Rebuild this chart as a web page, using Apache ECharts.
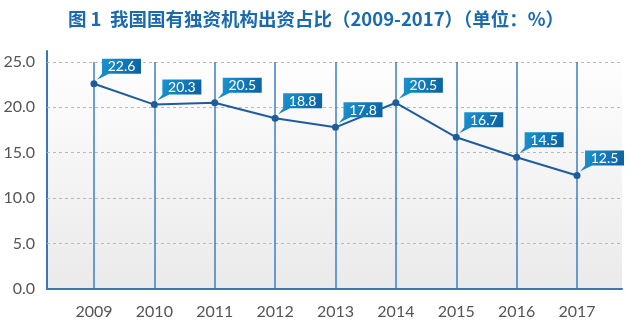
<!DOCTYPE html>
<html>
<head>
<meta charset="utf-8">
<script src="https://cdn.jsdelivr.net/npm/echarts@6/dist/echarts.min.js"></script>
<style>
  html, body { margin: 0; padding: 0; background: #ffffff; }
  #chart { width: 632px; height: 326px; }
</style>
</head>
<body>
<div id="chart"></div>
<script>
// Years on the horizontal axis
const years = [2009, 2010, 2011, 2012, 2013, 2014, 2015, 2016, 2017];
// Share of capital contributed by wholly state-owned institutions (%)
const shares = [22.6, 20.3, 20.5, 18.8, 17.8, 20.5, 16.7, 14.5, 12.5];
// Value-axis tick labels
const yTicks = [0, 5, 10, 15, 20, 25];

const points = years.map((y, i) => [y, shares[i]]);

const chart = echarts.init(document.getElementById('chart'), null, { renderer: 'canvas' });

const axisBlue = '#3a78b5';
const lineBlue = '#1f5c9c';
const font = 'Lato, "Noto Sans", sans-serif';

// Speech-bubble value tag drawn up and to the right of each point
function renderTag(params, api) {
  const p = api.coord([api.value(0), api.value(1)]);
  const L = p[0] + 8, R = p[0] + 47, T = p[1] - 25, B = p[1] - 10;
  return {
    type: 'group',
    children: [
      {
        type: 'polygon',
        shape: { points: [[L, T], [R, T], [R, B], [L + 7, B], [p[0] + 3, p[1] - 4], [L, B]] },
        style: {
          fill: new echarts.graphic.LinearGradient(0, 0, 1, 1, [
            { offset: 0, color: '#1c9ad6' },
            { offset: 1, color: '#0a5c9c' }
          ])
        }
      },
      {
        type: 'text',
        style: {
          text: api.value(1).toFixed(1),
          x: (L + R) / 2,
          y: (T + B) / 2 + 0.5,
          align: 'center',
          verticalAlign: 'middle',
          fill: '#ffffff',
          font: '14px ' + font
        }
      }
    ]
  };
}

chart.setOption({
  animation: false,
  title: {
    text: '图 1  我国国有独资机构出资占比（2009-2017）（单位：%）',
    left: 'center',
    top: 5,
    textStyle: {
      color: '#1a6aad',
      fontSize: 18.5,
      fontWeight: 'bold',
      fontFamily: '"Noto Sans CJK SC", sans-serif'
    }
  },
  grid: {
    left: 47, right: 10, top: 51, bottom: 37,
    show: true,
    borderWidth: 0,
    backgroundColor: new echarts.graphic.LinearGradient(0, 0, 0, 1, [
      { offset: 0, color: '#ffffff' },
      { offset: 1, color: '#eaeaea' }
    ])
  },
  xAxis: {
    type: 'value',
    min: 2008.222,
    max: 2017.745,
    axisLine: { show: true, onZero: false, lineStyle: { color: axisBlue, width: 2 } },
    axisTick: { show: false },
    splitLine: { show: false },
    axisLabel: {
      customValues: years,
      formatter: v => String(v),
      color: '#555555',
      fontSize: 16,
      fontFamily: font,
      margin: 15
    }
  },
  yAxis: {
    type: 'value',
    min: 0,
    max: 26.2,
    axisLine: { show: true, lineStyle: { color: axisBlue, width: 2 } },
    axisTick: { show: false },
    splitLine: { show: false },
    axisLabel: {
      customValues: yTicks,
      formatter: v => v.toFixed(1),
      color: '#555555',
      fontSize: 16,
      fontFamily: font,
      margin: 12
    }
  },
  series: [
    {
      // horizontal dashed guides at each labelled value
      type: 'line',
      data: [],
      silent: true,
      z: 1,
      markLine: {
        silent: true,
        z: 1,
        symbol: 'none',
        label: { show: false },
        lineStyle: { color: '#b8b8b8', type: [3, 3], width: 1 },
        data: yTicks.filter(v => v > 0).map(v => ({ yAxis: v }))
      }
    },
    {
      // vertical year rules
      type: 'line',
      data: [],
      silent: true,
      z: 1,
      markLine: {
        silent: true,
        z: 1,
        symbol: 'none',
        label: { show: false },
        lineStyle: { color: '#3f7fbf', type: 'solid', width: 1.5 },
        data: years.map(y => [{ coord: [y, 0] }, { coord: [y, 25] }])
      }
    },
    {
      type: 'line',
      data: points,
      symbol: 'circle',
      symbolSize: 7,
      lineStyle: { color: lineBlue, width: 2 },
      itemStyle: { color: lineBlue },
      z: 3
    },
    {
      type: 'custom',
      coordinateSystem: 'cartesian2d',
      data: points,
      encode: { x: 0, y: 1 },
      renderItem: renderTag,
      z: 6
    }
  ]
});
</script>
</body>
</html>
